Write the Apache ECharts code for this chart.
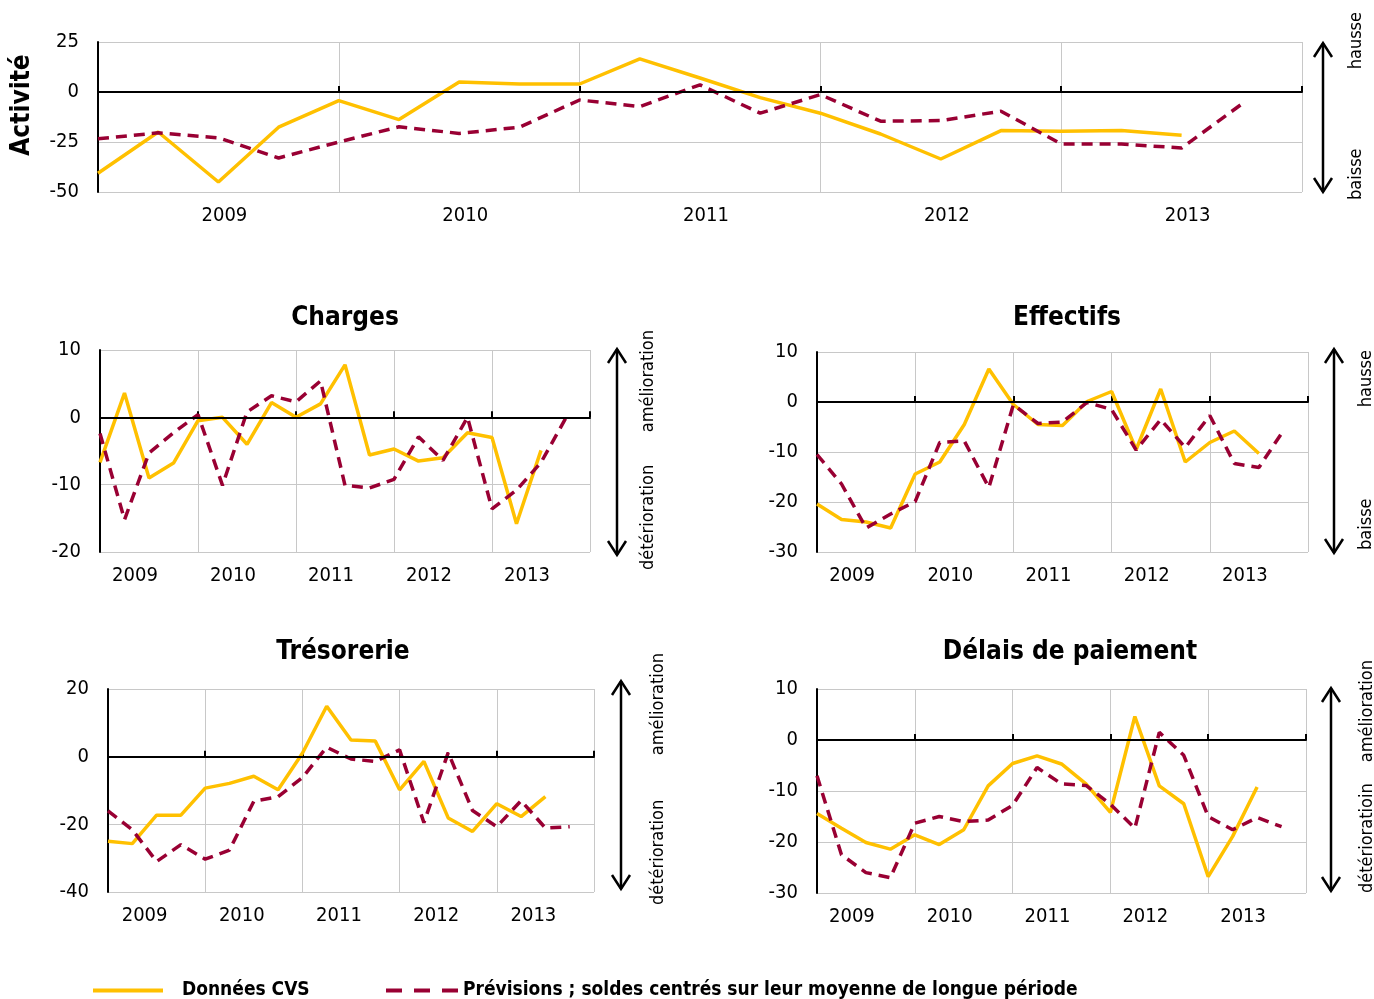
<!DOCTYPE html>
<html>
<head>
<meta charset="utf-8">
<script src="https://cdn.jsdelivr.net/npm/echarts@6/dist/echarts.min.js"></script>
<style>
html, body { margin: 0; padding: 0; background: #fff; }
#container { width: 1374px; height: 999px; }
</style>
</head>
<body>
<div id="container"></div>
<script>
var years = ['2009', '2010', '2011', '2012', '2013'];

// données trimestrielles, T1 2009 -> T4 2013
var activiteCVS = [-40.6, -20, -45, -17.6, -4.3, -13.8, 5, 4, 4, 16.6, 7, -2.8, -10.6, -21, -33.5, -19.3, -19.6, -19.3, -21.6];
var activitePrev = [-23.4, -20.4, -22.9, -33, -25, -17.4, -20.7, -17.6, -4, -7.3, 3.6, -10.6, -1.3, -14.6, -14.3, -9.6, -26, -26, -28, -6];

var chargesCVS = [-6.7, 3.6, -9, -6.8, -0.5, 0, -4, 2.2, 0, 2, 7.8, -5.6, -4.7, -6.5, -6, -2.3, -3, -15.8, -4.9];
var chargesPrev = [-2.4, -15.2, -5.3, -2.3, 0.4, -10.1, 0.8, 3.2, 2.3, 5.4, -10.1, -10.5, -9.2, -2.9, -6.4, 0, -13.6, -10.8, -6.7, -0.2];

var effectifsCVS = [-20.4, -23.5, -24, -25.2, -14.4, -12, -4.5, 6.6, -0.5, -4.5, -4.7, 0.1, 2.1, -9.5, 2.6, -12, -8.1, -5.8, -10.3];
var effectifsPrev = [-10.5, -16.4, -25.2, -22.4, -19.9, -8.1, -7.8, -17.1, -0.5, -4.3, -4, -0.1, -1.5, -9.6, -3.5, -9.1, -2.7, -12.3, -13.1, -5.7];

var tresoCVS = [-25, -25.7, -17.3, -17.3, -9.3, -7.9, -5.8, -9.8, 1, 14.9, 4.9, 4.6, -9.8, -1.4, -18.1, -22.1, -13.9, -17.7, -11.8];
var tresoPrev = [-16, -21.6, -31, -26, -30.3, -27.6, -13.2, -11.8, -6.2, 2.8, -0.7, -1.4, 2, -19.5, 1.2, -15.9, -20.7, -13, -21.1, -20.7];

var delaisCVS = [-14.4, -17.3, -20.1, -21.4, -18.6, -20.5, -17.6, -9, -4.6, -3.1, -4.7, -8.6, -14.2, 4.6, -9, -12.5, -26.8, -18.9, -9.2];
var delaisPrev = [-7, -22.5, -26, -27, -16.3, -15, -16, -15.7, -12.8, -5.4, -8.6, -8.9, -12.6, -17.3, 1.5, -3, -15, -17.6, -15.2, -17];

var nomCVS = 'Données CVS';
var nomPrev = 'Prévisions ; soldes centrés sur leur moyenne de longue période';

var FONT = '"DejaVu Sans Condensed", "DejaVu Sans", sans-serif';
var ORANGE = '#FFC000';
var BORDEAUX = '#990033';

var panels = [
    { cvs: activiteCVS, prev: activitePrev, min: -50, max: 25, interval: 25,
      grid: { left: 98, top: 42, width: 1204, height: 150 }, labelPad: [0, 0, 0, 12] },
    { cvs: chargesCVS, prev: chargesPrev, min: -20, max: 10, interval: 10,
      grid: { left: 100, top: 350, width: 490, height: 202 }, labelPad: [0, 28, 0, 0] },
    { cvs: effectifsCVS, prev: effectifsPrev, min: -30, max: 10, interval: 10,
      grid: { left: 817, top: 352, width: 491, height: 200 }, labelPad: [0, 28, 0, 0] },
    { cvs: tresoCVS, prev: tresoPrev, min: -40, max: 20, interval: 20,
      grid: { left: 108, top: 689, width: 486, height: 203 }, labelPad: [0, 24, 0, 0] },
    { cvs: delaisCVS, prev: delaisPrev, min: -30, max: 10, interval: 10,
      grid: { left: 817, top: 689, width: 489, height: 204 }, labelPad: [0, 28, 0, 0] }
];

function toPoints(arr) {
    return arr.map(function (v, i) { return [i, v]; });
}

var grids = [], xAxes = [], yAxes = [], series = [];
panels.forEach(function (p, i) {
    grids.push(p.grid);
    // axe des années (étiquettes, graduations, lignes verticales)
    xAxes.push({
        type: 'category', gridIndex: i, data: years, boundaryGap: true,
        axisLine: { lineStyle: { color: '#000', width: 2 } },
        axisTick: { show: true, inside: true, length: 6, lineStyle: { color: '#000', width: 2 } },
        axisLabel: { color: '#000', fontFamily: FONT, fontSize: 20, margin: 14, padding: p.labelPad },
        splitLine: { show: true, lineStyle: { color: '#c8c8c8', width: 1 } }
    });
    // axe trimestriel caché pour les courbes
    xAxes.push({ type: 'value', gridIndex: i, min: 0, max: 20, show: false });
    yAxes.push({
        type: 'value', gridIndex: i, min: p.min, max: p.max, interval: p.interval,
        axisLine: { show: true, lineStyle: { color: '#000', width: 2 } },
        axisTick: { show: false },
        axisLabel: { color: '#000', fontFamily: FONT, fontSize: 20, margin: 19 },
        splitLine: { show: true, lineStyle: { color: '#c8c8c8', width: 1 } }
    });
    series.push({
        name: nomCVS, type: 'line', xAxisIndex: i * 2 + 1, yAxisIndex: i,
        data: toPoints(p.cvs), symbol: 'none', z: 3,
        lineStyle: { color: ORANGE, width: 3.5 }, itemStyle: { color: ORANGE },
        markLine: {
            silent: true, symbol: 'none', label: { show: false },
            lineStyle: { color: '#000', width: 2, type: 'solid' },
            data: [{ yAxis: 0 }]
        }
    });
    series.push({
        name: nomPrev, type: 'line', xAxisIndex: i * 2 + 1, yAxisIndex: i,
        data: toPoints(p.prev), symbol: 'none', z: 4,
        lineStyle: { color: BORDEAUX, width: 3.5, type: [11, 7] }, itemStyle: { color: BORDEAUX }
    });
});

function arrow(x, y1, y2) {
    return [
        { type: 'line', shape: { x1: x, y1: y1, x2: x, y2: y2 }, style: { stroke: '#000', lineWidth: 2.5 } },
        { type: 'polyline', shape: { points: [[x - 9, y1 + 14], [x, y1], [x + 9, y1 + 14]] }, style: { stroke: '#000', lineWidth: 2.5, fill: null } },
        { type: 'polyline', shape: { points: [[x - 9, y2 - 14], [x, y2], [x + 9, y2 - 14]] }, style: { stroke: '#000', lineWidth: 2.5, fill: null } }
    ];
}

function vtext(txt, x, y, size, bold, align) {
    return {
        type: 'text', x: x, y: y, rotation: Math.PI / 2,
        style: { text: txt, fill: '#000', font: (bold ? 'bold ' : '') + size + 'px ' + FONT, align: align, verticalAlign: 'middle' }
    };
}

function title(txt, x, y) {
    return {
        type: 'text', x: x, y: y,
        style: { text: txt, fill: '#000', font: 'bold 26px ' + FONT, align: 'center', verticalAlign: 'middle' }
    };
}

var graphics = []
    .concat(arrow(1323, 43, 192))
    .concat(arrow(617, 349, 555))
    .concat(arrow(1334, 349, 553))
    .concat(arrow(621, 681, 889))
    .concat(arrow(1331, 688, 891))
    .concat([
        vtext('Activité', 22, 105, 26, true, 'center'),
        vtext('hausse', 1356, 12, 18, false, 'right'),
        vtext('baisse', 1356, 200, 18, false, 'left'),
        vtext('amélioration', 648, 330, 18, false, 'right'),
        vtext('détérioration', 648, 570, 18, false, 'left'),
        vtext('hausse', 1366, 350, 18, false, 'right'),
        vtext('baisse', 1366, 550, 18, false, 'left'),
        vtext('amélioration', 658, 653, 18, false, 'right'),
        vtext('détérioration', 658, 905, 18, false, 'left'),
        vtext('amélioration', 1367, 660, 18, false, 'right'),
        vtext('détérioratioin', 1367, 893, 18, false, 'left'),
        title('Charges', 345, 318),
        title('Effectifs', 1067, 318),
        title('Trésorerie', 343, 652),
        title('Délais de paiement', 1070, 652)
    ]);

var myChart = echarts.init(document.getElementById('container'));
myChart.setOption({
    animation: false,
    backgroundColor: '#fff',
    legend: [
        {
            left: 88, top: 976, data: [nomCVS], itemWidth: 70, itemHeight: 14,
            icon: 'path://M0,5 L70,5 L70,9 L0,9 Z',
            textStyle: { fontFamily: FONT, fontWeight: 'bold', fontSize: 19, color: '#000', padding: [0, 0, 0, 14] }
        },
        {
            left: 381, top: 976, data: [nomPrev], itemWidth: 72, itemHeight: 14,
            icon: 'path://M0,5 L16,5 L16,9 L0,9 Z M28,5 L44,5 L44,9 L28,9 Z M56,5 L72,5 L72,9 L56,9 Z',
            textStyle: { fontFamily: FONT, fontWeight: 'bold', fontSize: 19, color: '#000', padding: [0, 0, 0, 0] }
        }
    ],
    grid: grids,
    xAxis: xAxes,
    yAxis: yAxes,
    series: series,
    graphic: graphics
});
</script>
</body>
</html>
